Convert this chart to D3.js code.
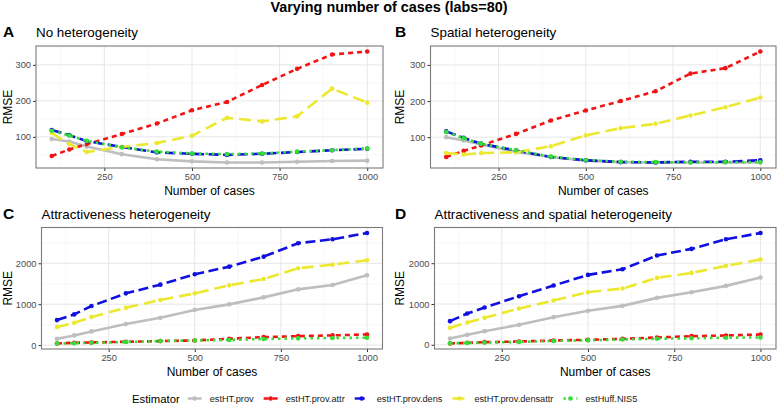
<!DOCTYPE html>
<html>
<head>
<meta charset="utf-8">
<script src="https://cdn.jsdelivr.net/npm/d3@7"></script>
<style>
  body { margin: 0; background: #fff; }
  text { font-family: "Liberation Sans", Arial, sans-serif; }
</style>
</head>
<body>
<div id="chart"></div>
<script>
// x values shared by every panel
const cases = [100, 150, 200, 300, 400, 500, 600, 700, 800, 900, 1000];
const estimators = ["estHT.prov", "estHT.prov.attr", "estHT.prov.dens", "estHT.prov.densattr", "estHuff.NIS5"];
const xTicks = [250, 500, 750, 1000];
const smallTicks = [100, 200, 300];
const largeTicks = [0, 1000, 2000];

// A - no heterogeneity
const noHetProv = [94, 87, 73, 52, 38, 32, 29, 29, 31, 33, 34];
const noHetAttr = [47, 65, 80, 108, 137, 174, 197, 244, 289, 329, 337];
const noHetDens = [119, 105, 88, 72, 57, 53, 50, 53, 58, 63, 67];
const noHetDensattr = [111, 80, 58, 72, 83, 103, 153, 143, 157, 234, 195];
const noHetHuff = [117, 104, 89, 71, 59, 54, 52, 54, 59, 63, 68];

// B - spatial heterogeneity
const spatProv = [100, 91, 80, 59, 45, 35, 31, 30, 30, 30, 30];
const spatAttr = [45, 62, 77, 109, 146, 174, 200, 227, 276, 291, 337];
const spatDens = [116, 98, 82, 63, 45, 36, 31, 30, 32, 32, 36];
const spatDensattr = [56, 52, 56, 58, 75, 105, 125, 137, 160, 183, 210];
const spatHuff = [114, 97, 82, 64, 46, 37, 32, 31, 30, 31, 31];

// C - attractiveness heterogeneity
const attrProv = [155, 237, 335, 514, 669, 857, 996, 1167, 1363, 1469, 1706];
const attrAttr = [40, 57, 65, 82, 98, 114, 155, 196, 220, 237, 261];
const attrDens = [612, 751, 955, 1265, 1478, 1731, 1918, 2163, 2490, 2588, 2740];
const attrDensattr = [441, 547, 686, 914, 1102, 1265, 1461, 1616, 1878, 1967, 2073];
const attrHuff = [42, 45, 55, 75, 100, 115, 125, 150, 165, 175, 180];

// D - attractiveness and spatial heterogeneity
const bothProv = [155, 245, 335, 490, 678, 833, 955, 1151, 1290, 1445, 1649];
const bothAttr = [33, 49, 65, 82, 106, 122, 147, 180, 212, 229, 253];
const bothDens = [580, 767, 914, 1192, 1453, 1714, 1853, 2188, 2351, 2588, 2740];
const bothDensattr = [416, 547, 661, 890, 1086, 1290, 1380, 1641, 1763, 1935, 2090];
const bothHuff = [40, 45, 55, 70, 95, 110, 130, 150, 160, 175, 180];

// line styles per estimator
var styles = {
  "estHT.prov": { color: "#bebebe", dash: null },
  "estHT.prov.attr": { color: "#f01414", dash: "5,4" },
  "estHT.prov.dens": { color: "#1010e0", dash: "10,4.5" },
  "estHT.prov.densattr": { color: "#ece830", dash: "12,6" },
  "estHuff.NIS5": { color: "#38dc38", dash: "2.5,4" },
};

var panels = [
  { letter: "A", title: "No heterogeneity", lx: 3, left: 36, right: 383, top: 46, bottom: 168,
    yTicks: smallTicks, series: [noHetProv, noHetAttr, noHetDens, noHetDensattr, noHetHuff] },
  { letter: "B", title: "Spatial heterogeneity", lx: 395, left: 430.5, right: 776, top: 46, bottom: 168,
    yTicks: smallTicks, series: [spatProv, spatAttr, spatDens, spatDensattr, spatHuff] },
  { letter: "C", title: "Attractiveness heterogeneity", lx: 3, left: 41.5, right: 382.5, top: 227.5, bottom: 349,
    yTicks: largeTicks, series: [attrProv, attrAttr, attrDens, attrDensattr, attrHuff] },
  { letter: "D", title: "Attractiveness and spatial heterogeneity", lx: 395, left: 434.5, right: 776, top: 227.5, bottom: 349,
    yTicks: largeTicks, series: [bothProv, bothAttr, bothDens, bothDensattr, bothHuff] },
];

var svg = d3.select("#chart").append("svg")
  .attr("width", 778).attr("height", 405)
  .style("background", "#fff");

// main title
svg.append("text")
  .attr("x", 389).attr("y", 12)
  .attr("text-anchor", "middle")
  .style("font-size", "14.4px").style("font-weight", "bold")
  .text("Varying number of cases (labs=80)");

panels.forEach(function (p) {
  // ggplot style 5% expansion
  var xr = d3.extent(cases), xpad = (xr[1] - xr[0]) * 0.05;
  var x = d3.scaleLinear().domain([xr[0] - xpad, xr[1] + xpad]).range([p.left, p.right]);
  var yr = d3.extent(d3.merge(p.series)), ypad = (yr[1] - yr[0]) * 0.05;
  var y = d3.scaleLinear().domain([yr[0] - ypad, yr[1] + ypad]).range([p.bottom, p.top]);

  var g = svg.append("g");

  // minor grid
  var xMinor = [];
  var xStep = xTicks[1] - xTicks[0];
  for (var v = xTicks[0] - xStep / 2; v <= xTicks[xTicks.length - 1] + xStep / 2; v += xStep) xMinor.push(v);
  var yStep = p.yTicks[1] - p.yTicks[0];
  var yMinor = [];
  for (var w = p.yTicks[0] - yStep / 2; w <= p.yTicks[p.yTicks.length - 1] + yStep / 2; w += yStep) yMinor.push(w);
  var xd = x.domain(), yd = y.domain();

  g.selectAll(".xminor").data(xMinor.filter(function (d) { return d > xd[0] && d < xd[1]; }))
    .enter().append("line")
    .attr("x1", function (d) { return x(d); }).attr("x2", function (d) { return x(d); })
    .attr("y1", p.top).attr("y2", p.bottom)
    .attr("stroke", "#f2f2f2").attr("stroke-width", 0.6);
  g.selectAll(".yminor").data(yMinor.filter(function (d) { return d > yd[0] && d < yd[1]; }))
    .enter().append("line")
    .attr("y1", function (d) { return y(d); }).attr("y2", function (d) { return y(d); })
    .attr("x1", p.left).attr("x2", p.right)
    .attr("stroke", "#f2f2f2").attr("stroke-width", 0.6);

  // major grid
  g.selectAll(".xmajor").data(xTicks).enter().append("line")
    .attr("x1", function (d) { return x(d); }).attr("x2", function (d) { return x(d); })
    .attr("y1", p.top).attr("y2", p.bottom)
    .attr("stroke", "#e6e6e6").attr("stroke-width", 1);
  g.selectAll(".ymajor").data(p.yTicks).enter().append("line")
    .attr("y1", function (d) { return y(d); }).attr("y2", function (d) { return y(d); })
    .attr("x1", p.left).attr("x2", p.right)
    .attr("stroke", "#e6e6e6").attr("stroke-width", 1);

  // axes
  var xAxis = g.append("g")
    .attr("transform", "translate(0," + p.bottom + ")")
    .call(d3.axisBottom(x).tickValues(xTicks).tickSize(3).tickPadding(2).tickFormat(d3.format("d")));
  var yAxis = g.append("g")
    .attr("transform", "translate(" + p.left + ",0)")
    .call(d3.axisLeft(y).tickValues(p.yTicks).tickSize(3).tickPadding(2).tickFormat(d3.format("d")));
  [xAxis, yAxis].forEach(function (a) {
    a.select(".domain").remove();
    a.selectAll(".tick line").attr("stroke", "#333");
    a.selectAll(".tick text")
      .style("font-family", '"Liberation Sans", Arial, sans-serif')
      .style("font-size", "9.3px").attr("fill", "#4d4d4d");
  });

  // lines first, then points
  var line = d3.line()
    .x(function (d, i) { return x(cases[i]); })
    .y(function (d) { return y(d); });
  p.series.forEach(function (s, k) {
    var st = styles[estimators[k]];
    g.append("path")
      .datum(s)
      .attr("d", line)
      .attr("fill", "none")
      .attr("stroke", st.color)
      .attr("stroke-width", 2.6)
      .attr("stroke-dasharray", st.dash);
  });
  p.series.forEach(function (s, k) {
    var st = styles[estimators[k]];
    g.selectAll(".pt" + k).data(s).enter().append("circle")
      .attr("cx", function (d, i) { return x(cases[i]); })
      .attr("cy", function (d) { return y(d); })
      .attr("r", 2.3)
      .attr("fill", st.color);
  });

  // panel border
  g.append("rect")
    .attr("x", p.left).attr("y", p.top)
    .attr("width", p.right - p.left).attr("height", p.bottom - p.top)
    .attr("fill", "none").attr("stroke", "#7a7a7a").attr("stroke-width", 1.1);

  // titles
  svg.append("text").attr("x", p.lx).attr("y", p.top - 9)
    .style("font-size", "15.5px").style("font-weight", "bold").text(p.letter);
  svg.append("text").attr("x", p.left).attr("y", p.top - 9)
    .style("font-size", "13.4px").text(p.title);
  svg.append("text")
    .attr("x", (p.left + p.right) / 2).attr("y", p.bottom + 27)
    .attr("text-anchor", "middle").style("font-size", "12px")
    .text("Number of cases");
  svg.append("text")
    .attr("transform", "translate(" + (p.lx + 8.5) + "," + (p.top + p.bottom) / 2 + ") rotate(-90)")
    .attr("text-anchor", "middle").style("font-size", "12px")
    .text("RMSE");
});

// legend
var legend = svg.append("g").attr("transform", "translate(0,398.5)");
var lt = legend.append("text").attr("x", 132).attr("y", 4)
  .style("font-size", "11.3px").text("Estimator");
var cursor = 132 + lt.node().getComputedTextLength();
estimators.forEach(function (name) {
  var st = styles[name];
  var cx = cursor + 15;
  legend.append("line")
    .attr("x1", cx - 7).attr("x2", cx + 7)
    .attr("y1", 0).attr("y2", 0)
    .attr("stroke", st.color).attr("stroke-width", 2.4)
    .attr("stroke-dasharray", st.dash);
  legend.append("circle").attr("cx", cx).attr("cy", 0).attr("r", 2.3).attr("fill", st.color);
  var t = legend.append("text").attr("x", cx + 15).attr("y", 3.2)
    .style("font-size", "9.2px").attr("fill", "#1a1a1a").text(name);
  cursor = cx + 15 + t.node().getComputedTextLength() + 2;
});
</script>
</body>
</html>
